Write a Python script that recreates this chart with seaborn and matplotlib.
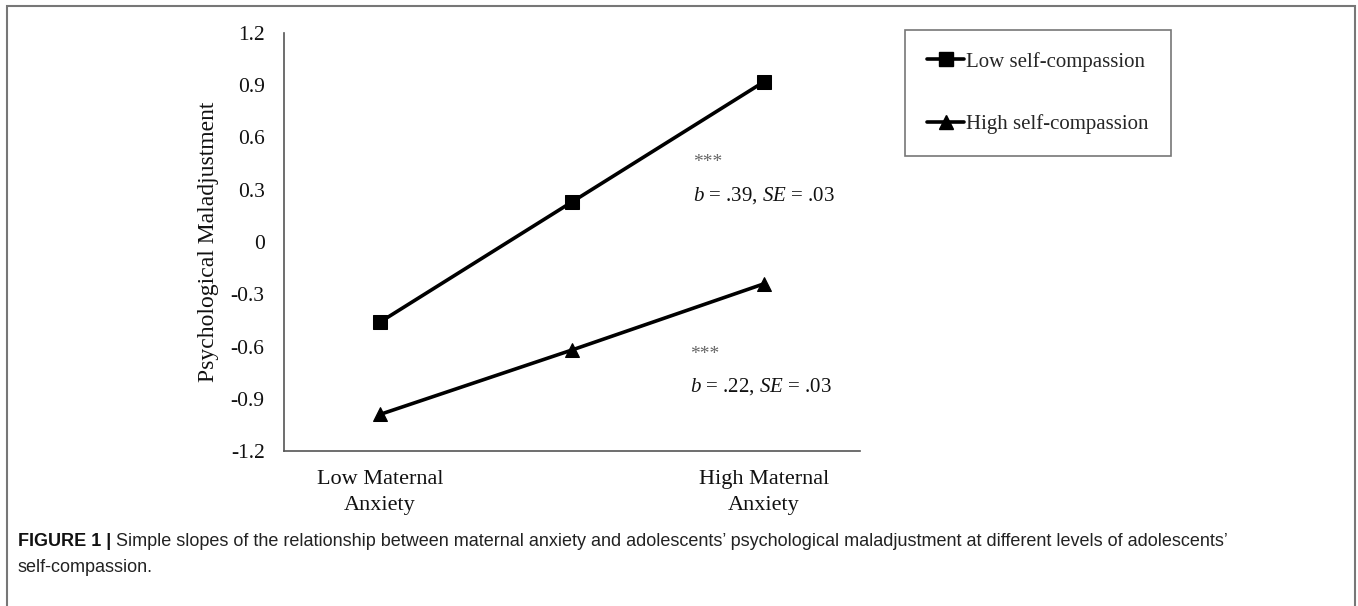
import matplotlib
matplotlib.use("Agg")
import matplotlib.pyplot as plt
import seaborn as sns
import pandas as pd
from matplotlib.patches import Rectangle
from matplotlib.lines import Line2D

# ---- data ----
anxiety_levels = ["Low Maternal\nAnxiety", "Mean", "High Maternal\nAnxiety"]
low_sc_values = [-0.46, 0.23, 0.92]
high_sc_values = [-0.99, -0.62, -0.24]
series_names = ["Low self-compassion", "High self-compassion"]
y_ticks = [-1.2, -0.9, -0.6, -0.3, 0, 0.3, 0.6, 0.9, 1.2]
y_tick_labels = ["-1.2", "-0.9", "-0.6", "-0.3", "0", "0.3", "0.6", "0.9", "1.2"]
x_tick_labels = ["Low Maternal\nAnxiety", "", "High Maternal\nAnxiety"]
annot_stars = "***"
annot_low = r"$\mathit{b}$ = .39, $\mathit{SE}$ = .03"
annot_high = r"$\mathit{b}$ = .22, $\mathit{SE}$ = .03"
caption_bold = "FIGURE 1 |"
caption_rest = (" Simple slopes of the relationship between maternal anxiety and adolescents\u2019 "
                "psychological maladjustment at different levels of adolescents\u2019")
caption_line2 = "self-compassion."

df = pd.DataFrame({
    "anxiety": anxiety_levels * 2,
    "value": low_sc_values + high_sc_values,
    "group": [series_names[0]] * 3 + [series_names[1]] * 3,
})

sns.set_theme(style="white")
plt.rcParams["font.family"] = ["Liberation Serif", "DejaVu Serif"]
plt.rcParams["mathtext.fontset"] = "custom"
plt.rcParams["mathtext.rm"] = "Liberation Serif"
plt.rcParams["mathtext.it"] = "Liberation Serif:italic"

W, H = 1358, 606
fig = plt.figure(figsize=(W / 100, H / 100), dpi=100)
fig.patch.set_facecolor("white")

ax = fig.add_axes([284 / W, 155 / H, 576 / W, 418 / H])
sns.lineplot(data=df, x="anxiety", y="value", hue="group", style="group",
             markers={series_names[0]: "s", series_names[1]: "^"},
             dashes=False, palette=["black", "black"], linewidth=2.6,
             markersize=10, markeredgecolor="black", ax=ax, legend=False, sort=False)

ax.set_xlim(-0.5, 2.5)
ax.set_ylim(-1.2, 1.2)
ax.set_yticks(y_ticks)
ax.set_yticklabels(y_tick_labels, fontsize=15.5, color="#111111")
ax.set_xticks(range(len(x_tick_labels)))
ax.set_xticklabels(x_tick_labels, fontsize=16, color="#111111", linespacing=1.45)
ax.tick_params(axis="y", length=0, pad=14)
ax.tick_params(axis="x", length=0, pad=14)
ax.set_xlabel("")
ax.set_ylabel("Psychological Maladjustment", fontsize=17, color="#111111", labelpad=8)
for s in ["top", "right"]:
    ax.spines[s].set_visible(False)
for s in ["left", "bottom"]:
    ax.spines[s].set_color("#555555")
    ax.spines[s].set_linewidth(1.2)

ax.text(0.71, 0.689, annot_stars, transform=ax.transAxes, fontsize=14, color="#666666",
        va="center", ha="left")
ax.text(0.71, 0.610, annot_low, transform=ax.transAxes, fontsize=15, color="#111111",
        va="center", ha="left")
ax.text(0.705, 0.230, annot_stars, transform=ax.transAxes, fontsize=14, color="#666666",
        va="center", ha="left")
ax.text(0.705, 0.153, annot_high, transform=ax.transAxes, fontsize=15, color="#111111",
        va="center", ha="left")

handles = [Line2D([], [], color="black", lw=2.6, marker="s", markersize=10),
           Line2D([], [], color="black", lw=2.6, marker="^", markersize=10)]
leg = fig.legend(handles, series_names, loc="upper left",
                 bbox_to_anchor=(905 / W, 1 - 30 / H), frameon=True, fancybox=False,
                 fontsize=15, handlelength=1.8, handletextpad=0.1,
                 labelspacing=2.05, borderpad=1.05, borderaxespad=0)
leg.get_frame().set_edgecolor("#555555")
leg.get_frame().set_linewidth(1.2)

# outer border
fig.patches.append(Rectangle((7 / W, -0.05), (1355 - 7) / W, 1.05 - 6 / H,
                             transform=fig.transFigure, fill=False,
                             edgecolor="#777777", linewidth=1.5))

# caption
cap_font = ["Liberation Sans", "DejaVu Sans"]
t1 = fig.text(18 / W, 1 - 541 / H, caption_bold, fontsize=13, fontweight="bold",
              family=cap_font, color="#111111", va="center", ha="left")
fig.canvas.draw()
bb = t1.get_window_extent()
fig.text(bb.x1 / W, 1 - 541 / H, caption_rest, fontsize=13, family=cap_font,
         color="#222222", va="center", ha="left")
fig.text(18 / W, 1 - 567 / H, caption_line2, fontsize=13, family=cap_font,
         color="#222222", va="center", ha="left")

fig.savefig("out.png", dpi=100)
